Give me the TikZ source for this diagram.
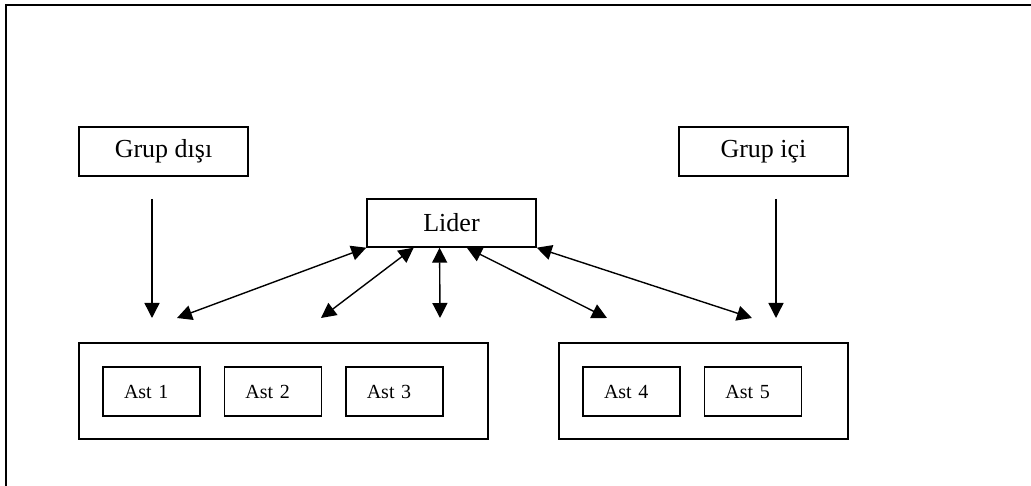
\documentclass[tikz,border=0pt]{standalone}
\usepackage{fontspec}
\setmainfont{Liberation Serif}
\usetikzlibrary{arrows.meta,positioning,calc}
\tikzset{
  box/.style={draw,line width=1.4pt,minimum width=169pt,minimum height=49pt,inner sep=0pt,font=\fontsize{26}{30}\selectfont},
  ast/.style={draw,line width=1.4pt,minimum height=49pt,text width=55pt,inner xsep=21pt,inner ysep=0pt,align=left,font=\fontsize{20}{24}\selectfont},
  grp/.style={draw,line width=1.4pt,minimum height=96pt,inner sep=0pt},
  arr/.style={-{Triangle[length=15pt,width=15pt]},line width=1.4pt},
  darr/.style={{Triangle[length=15pt,width=15pt]}-{Triangle[length=15pt,width=15pt]},line width=1.4pt}
}

\begin{document}
\begin{tikzpicture}[x=1pt,y=-1pt]
\useasboundingbox (0,0) rectangle (1031,486);
\draw[line width=1.6pt] (6,486) -- (6,5) -- (1031,5);
\node[box] (gdisi) at (163.5,151.5) {Grup dışı};
\node[box] (gici) at (763.5,151.5) {Grup içi};
\node[box,minimum height=48pt] (lider) at (451.5,223) {Lider};
\node[grp,minimum width=409pt] (grp1) at (283.5,391) {};
\node[grp,minimum width=289pt] (grp2) at (703.5,391) {};
\node[ast] (ast1) at (151.5,391.5) {Ast 1};
\node[ast,right=23pt of ast1] (ast2) {Ast 2};
\node[ast,right=23pt of ast2] (ast3) {Ast 3};
\node[ast] (ast4) at (631.5,391.5) {Ast 4};
\node[ast,right=23pt of ast4] (ast5) {Ast 5};
% arrow ends
\coordinate (dt) at (152,199); \coordinate (db) at (152,318);
\coordinate (it) at (776,199); \coordinate (ib) at (776,318);
\coordinate (e1) at (177,318); \coordinate (e2) at (321,318);
\coordinate (e3) at (440,318); \coordinate (e4) at (607,318);
\coordinate (e5) at (752,318);
\draw[arr] (dt) -- (db); \draw[arr] (it) -- (ib);
\draw[darr] (lider.south west) -- (e1);
\draw[darr] ($(lider.south west)!0.278!(lider.south east)$) -- (e2);
\draw[darr] ($(lider.south west)!0.43!(lider.south east)$) -- (e3);
\draw[darr] ($(lider.south west)!0.59!(lider.south east)$) -- (e4);
\draw[darr] (lider.south east) -- (e5);
\end{tikzpicture}
\end{document}
